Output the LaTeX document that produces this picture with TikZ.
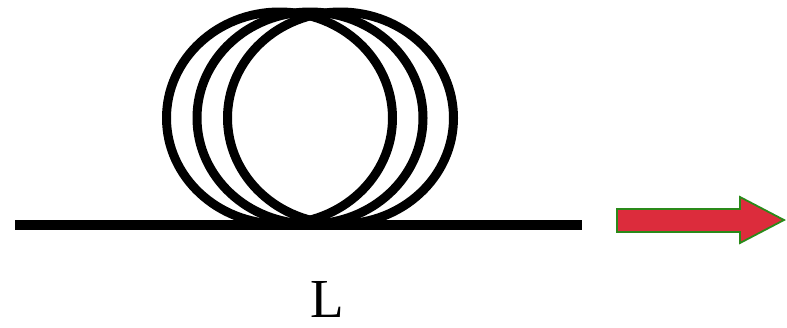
\documentclass[tikz,border=0pt]{standalone}
\usepackage{fontspec}
\setmainfont{Liberation Serif}
\definecolor{arrowred}{HTML}{DC2C3C}
\definecolor{arrowgreen}{HTML}{2A8A1A}
\begin{document}
\begin{tikzpicture}[x=1pt,y=-1pt,
  fiber/.style={line width=9pt,black},
  bigarrow/.style={fill=arrowred,draw=arrowgreen,line width=1.8pt,line join=miter}]
\useasboundingbox (0,0) rectangle (787,327);
% coil loops
\draw[fiber] (279.5,118) ellipse [x radius=113, y radius=106];
\draw[fiber] (310,118) ellipse [x radius=113, y radius=106];
\draw[fiber] (340.5,118) ellipse [x radius=113, y radius=106];
% straight fiber
\coordinate (fa) at (15,225);
\coordinate (fb) at (582,225);
\draw[line width=10pt,black] (fa) -- (fb);
% arrow
\draw[bigarrow] (617,209) -- (740,209) -- (740,197) -- (784,220) -- (740,243) -- (740,232) -- (617,232) -- cycle;
% label
\node[inner sep=0pt,anchor=base] (lab) at (327,317) {\fontsize{55}{60}\selectfont L};
\end{tikzpicture}
\end{document}
